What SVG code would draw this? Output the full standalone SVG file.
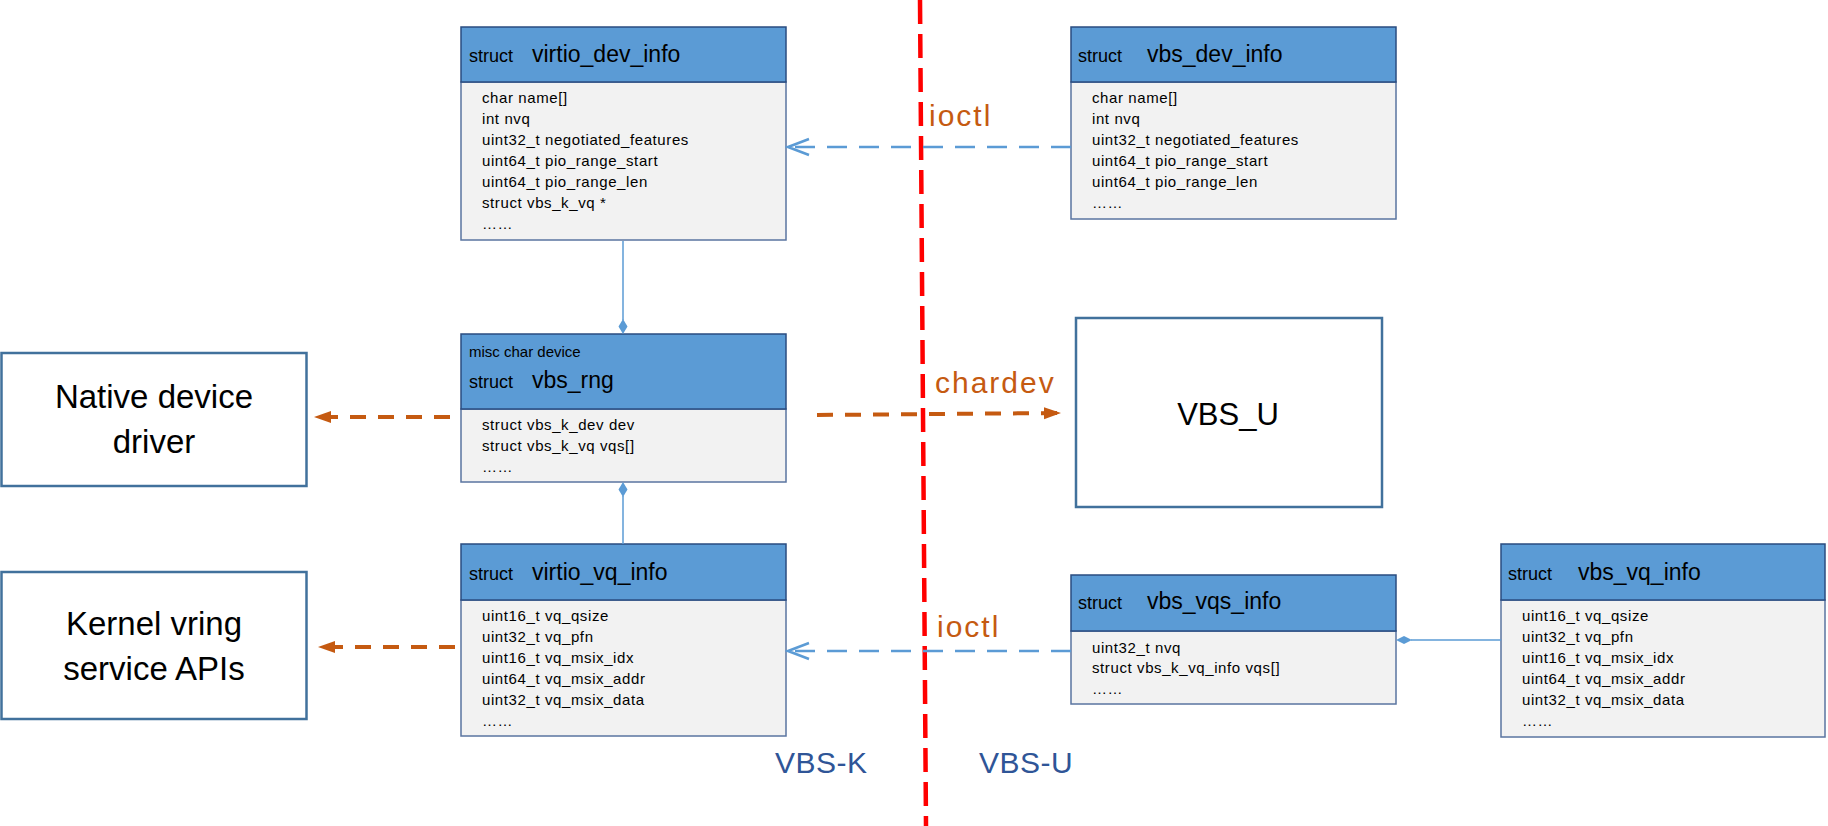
<svg xmlns="http://www.w3.org/2000/svg" width="1828" height="826" viewBox="0 0 1828 826">
<style>
text{font-family:"Liberation Sans",Arial,sans-serif;fill:#000}
.hdr{fill:#5B9BD5;stroke:#2A4C80;stroke-width:1.5}
.body{fill:#F2F2F2;stroke:#5A74A0;stroke-width:1.5}
.kw{font-size:18px}
.ttl{font-size:23px}
.fld{font-size:15px;letter-spacing:0.6px}
.misc{font-size:15px}
.plain{fill:#FFFFFF;stroke:#41719C;stroke-width:2.5}
.big{font-size:33px;text-anchor:middle}
.lbl{font-size:30px;fill:#C55A11;letter-spacing:2px}
.side{font-size:30px;fill:#2F5597;letter-spacing:0.5px}
.assoc{stroke:#5B9BD5;stroke-width:1.5;fill:none}
.dia{fill:#5B9BD5}
.ioctl{stroke:#5B9BD5;stroke-width:2.5;stroke-dasharray:20 12;fill:none}
.orng{stroke:#C55A11;stroke-width:4;stroke-dasharray:16 12;fill:none}
</style>
<defs>
<marker id="openArrow" markerUnits="userSpaceOnUse" markerWidth="26" markerHeight="20" viewBox="0 0 26 20" refX="23" refY="10" orient="auto">
<path d="M2,2 L23,10 L2,18" fill="none" stroke="#5B9BD5" stroke-width="2.5"/>
</marker>
<marker id="fillArrow" markerUnits="userSpaceOnUse" markerWidth="18" markerHeight="14" viewBox="0 0 18 14" refX="17" refY="7" orient="auto">
<path d="M0,1 L17,7 L0,13 z" fill="#C55A11"/>
</marker>
</defs>
<rect width="1828" height="826" fill="#FFFFFF"/>

<g id="divider">
<line x1="920" y1="0" x2="926" y2="826" stroke="#FF0000" stroke-width="4.5" stroke-dasharray="24 10"/>
</g>

<g id="virtio_dev_info">
<rect class="body" x="461" y="82" width="325" height="158"/>
<rect class="hdr" x="461" y="27" width="325" height="55"/>
<text class="kw" x="469" y="62">struct</text>
<text class="ttl" x="532" y="62">virtio_dev_info</text>
<text class="fld" x="482" y="103">char name[]</text>
<text class="fld" x="482" y="124">int nvq</text>
<text class="fld" x="482" y="145">uint32_t negotiated_features</text>
<text class="fld" x="482" y="166">uint64_t pio_range_start</text>
<text class="fld" x="482" y="187">uint64_t pio_range_len</text>
<text class="fld" x="482" y="208">struct vbs_k_vq *</text>
<text class="fld" x="482" y="229">……</text>
</g>

<g id="vbs_dev_info">
<rect class="body" x="1071" y="82" width="325" height="137"/>
<rect class="hdr" x="1071" y="27" width="325" height="55"/>
<text class="kw" x="1078" y="62">struct</text>
<text class="ttl" x="1147" y="62">vbs_dev_info</text>
<text class="fld" x="1092" y="103">char name[]</text>
<text class="fld" x="1092" y="124">int nvq</text>
<text class="fld" x="1092" y="145">uint32_t negotiated_features</text>
<text class="fld" x="1092" y="166">uint64_t pio_range_start</text>
<text class="fld" x="1092" y="187">uint64_t pio_range_len</text>
<text class="fld" x="1092" y="208">……</text>
</g>

<g id="vbs_rng">
<rect class="body" x="461" y="409" width="325" height="73"/>
<rect class="hdr" x="461" y="334" width="325" height="75"/>
<text class="misc" x="469" y="357">misc char device</text>
<text class="kw" x="469" y="388">struct</text>
<text class="ttl" x="532" y="388">vbs_rng</text>
<text class="fld" x="482" y="430">struct vbs_k_dev dev</text>
<text class="fld" x="482" y="451">struct vbs_k_vq vqs[]</text>
<text class="fld" x="482" y="472">……</text>
</g>

<g id="virtio_vq_info">
<rect class="body" x="461" y="600" width="325" height="136"/>
<rect class="hdr" x="461" y="544" width="325" height="56"/>
<text class="kw" x="469" y="580">struct</text>
<text class="ttl" x="532" y="580">virtio_vq_info</text>
<text class="fld" x="482" y="621">uint16_t vq_qsize</text>
<text class="fld" x="482" y="642">uint32_t vq_pfn</text>
<text class="fld" x="482" y="663">uint16_t vq_msix_idx</text>
<text class="fld" x="482" y="684">uint64_t vq_msix_addr</text>
<text class="fld" x="482" y="705">uint32_t vq_msix_data</text>
<text class="fld" x="482" y="726">……</text>
</g>

<g id="vbs_vqs_info">
<rect class="body" x="1071" y="631" width="325" height="73"/>
<rect class="hdr" x="1071" y="575" width="325" height="56"/>
<text class="kw" x="1078" y="609">struct</text>
<text class="ttl" x="1147" y="609">vbs_vqs_info</text>
<text class="fld" x="1092" y="653">uint32_t nvq</text>
<text class="fld" x="1092" y="673">struct vbs_k_vq_info vqs[]</text>
<text class="fld" x="1092" y="694">……</text>
</g>

<g id="vbs_vq_info">
<rect class="body" x="1501" y="600" width="324" height="137"/>
<rect class="hdr" x="1501" y="544" width="324" height="56"/>
<text class="kw" x="1508" y="580">struct</text>
<text class="ttl" x="1578" y="580">vbs_vq_info</text>
<text class="fld" x="1522" y="621">uint16_t vq_qsize</text>
<text class="fld" x="1522" y="642">uint32_t vq_pfn</text>
<text class="fld" x="1522" y="663">uint16_t vq_msix_idx</text>
<text class="fld" x="1522" y="684">uint64_t vq_msix_addr</text>
<text class="fld" x="1522" y="705">uint32_t vq_msix_data</text>
<text class="fld" x="1522" y="726">……</text>
</g>

<g id="native_driver">
<rect class="plain" x="1.5" y="353" width="305" height="133"/>
<text class="big" x="154" y="408">Native device</text>
<text class="big" x="154" y="453">driver</text>
</g>

<g id="kernel_vring">
<rect class="plain" x="1.5" y="572" width="305" height="147"/>
<text class="big" x="154" y="635">Kernel vring</text>
<text class="big" x="154" y="680">service APIs</text>
</g>

<g id="vbs_u">
<rect class="plain" x="1076" y="318" width="306" height="189"/>
<text x="1228" y="425" style="font-size:31px;text-anchor:middle">VBS_U</text>
</g>

<g id="connectors">
<line class="assoc" x1="623" y1="241" x2="623" y2="320"/>
<path class="dia" d="M623,319 L627.5,326.5 L623,334 L618.5,326.5 z"/>
<path class="dia" d="M623,482 L627.5,489.5 L623,497 L618.5,489.5 z"/>
<line class="assoc" x1="623" y1="496" x2="623" y2="544"/>
<path class="dia" d="M1396,640 L1404,636 L1412,640 L1404,644 z"/>
<line class="assoc" x1="1411" y1="640" x2="1501" y2="640"/>
<path class="ioctl" d="M1071,147 L788,147" marker-end="url(#openArrow)"/>
<path class="ioctl" d="M1071,651 L788,651" marker-end="url(#openArrow)"/>
<path class="orng" d="M450,417 L314,417" marker-end="url(#fillArrow)"/>
<path class="orng" d="M455,647 L318,647" marker-end="url(#fillArrow)"/>
<path class="orng" d="M817,415 L1061,413" marker-end="url(#fillArrow)"/>
<text class="lbl" x="929" y="126">ioctl</text>
<text class="lbl" x="935" y="393">chardev</text>
<text class="lbl" x="937" y="637">ioctl</text>
</g>

<g id="side_labels">
<text class="side" x="775" y="773">VBS-K</text>
<text class="side" x="979" y="773">VBS-U</text>
</g>
</svg>
